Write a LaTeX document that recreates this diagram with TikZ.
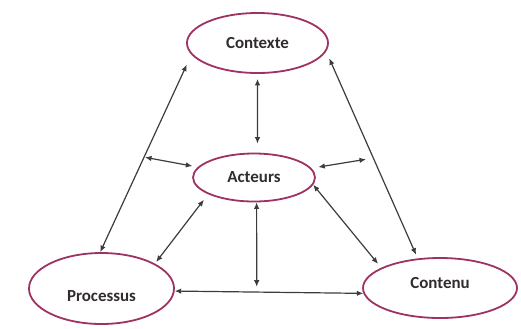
\documentclass[tikz,border=0pt]{standalone}
\usepackage{fontspec}
\setmainfont{Carlito}
\usetikzlibrary{shapes,arrows,arrows.meta}
\definecolor{rim}{RGB}{158,50,98}
\definecolor{ink}{RGB}{50,45,45}
\definecolor{wire}{RGB}{60,60,60}
\tikzstyle{bubble} = [ellipse, draw=rim, line width=1.8bp, fill=white,
text=ink, font=\bfseries\fontsize{17}{20}\selectfont, inner sep=0pt]
\tikzstyle{line} = [draw=wire, line width=1.2bp,
{Latex[length=6.5bp,width=5.5bp]}-{Latex[length=6.5bp,width=5.5bp]}]
\begin{document}
\begin{tikzpicture}[x=1bp, y=-1bp]
\useasboundingbox (0,0) rectangle (521,328);
% Place nodes
\node [bubble, minimum width=141bp, minimum height=60bp] (contexte) at (257.5,43) {Contexte};
\node [bubble, minimum width=122bp, minimum height=48bp] (acteurs) at (254,177.5) {Acteurs};
\node [bubble, minimum width=145bp, minimum height=71bp, text height=26pt, text depth=0pt] (processus) at (101.5,288.5) {Processus};
\node [bubble, minimum width=154bp, minimum height=60bp, text height=8pt, text depth=8pt] (contenu) at (440,288) {Contenu};
\coordinate (leftmid) at (145,157.3);
\coordinate (rightmid) at (366,159.3);
\coordinate (lowmid) at (256.7,286.7);
% Draw edges
\path [line, shorten <=11bp] (contexte.190) -- (processus.92);
\path [line, shorten <=7.5bp, shorten >=4bp] (contexte.353) -- (contenu.127);
\path [line, shorten <=5bp, shorten >=9bp] (contexte.270) -- (acteurs.82);
\path [line, shorten >=5.5bp] (leftmid) -- (acteurs);
\path [line, shorten <=7bp] (acteurs) -- (rightmid);
\path [line, shorten <=7bp, shorten >=2bp] (acteurs.200) -- (processus.25);
\path [line, shorten >=5bp] (acteurs.353) -- (contenu.161);
\path [line] (acteurs.276) -- (lowmid);
\path [line] (processus.358) -- (contenu.184);
\end{tikzpicture}
\end{document}
